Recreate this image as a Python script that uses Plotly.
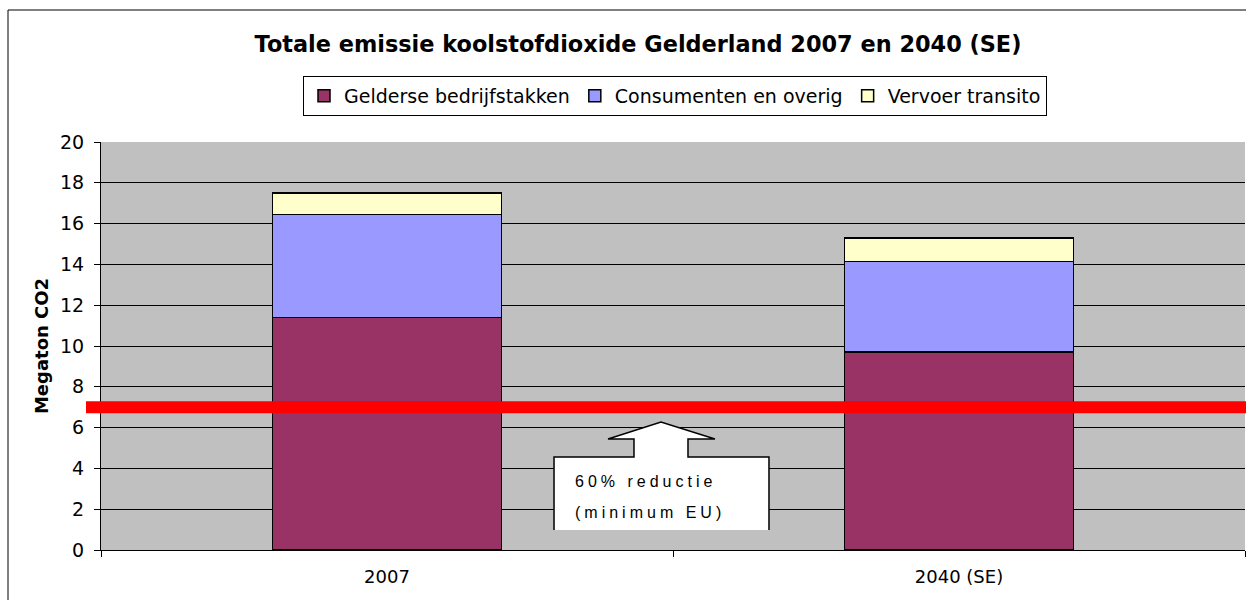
import plotly.graph_objects as go

categories = ["2007", "2040 (SE)"]
gelderse = [11.4, 9.7]
consumenten = [5.05, 4.45]
vervoer = [1.05, 1.15]
series_names = ["Gelderse bedrijfstakken", "Consumenten en overig", "Vervoer transito"]
series_colors = ["#993366", "#9999FF", "#FFFFCC"]
target = 7.0
y_ticks = [0, 2, 4, 6, 8, 10, 12, 14, 16, 18, 20]

FONT = "DejaVu Sans"

fig = go.Figure()
for name, vals, col in zip(series_names, [gelderse, consumenten, vervoer], series_colors):
    fig.add_trace(go.Bar(
        x=categories, y=vals, name=name,
        marker=dict(color=col, line=dict(color="black", width=1.5)),
    ))

# red target line
fig.add_shape(type="line", xref="paper", yref="y",
              x0=(86 - 101) / 1144, x1=1.01, y0=target, y1=target,
              line=dict(color="#FF0000", width=12), layer="above")

# arrow callout (white, black outline, open bottom)
def px_x(p):
    return (p - 101) / 572 - 0.5

def px_y(p):
    return (550 - p) / 20.4

pts = [(554, 530), (554, 457), (634, 457), (634, 439), (608, 439), (661, 422),
       (715, 439), (688, 439), (688, 457), (769, 457), (769, 530)]
path = "M " + " L ".join(f"{px_x(a):.4f},{px_y(b):.4f}" for a, b in pts)
fig.add_shape(type="path", xref="x", yref="y", path=path,
              fillcolor="white", line=dict(color="black", width=1.5), layer="above")

for txt, xc, yy in [("60% reductie", 645, 481), ("(minimum EU)", 650, 512)]:
    fig.add_annotation(x=px_x(xc), y=px_y(yy), xref="x", yref="y",
                       text=txt, showarrow=False, xanchor="center", yanchor="middle",
                       font=dict(family="Liberation Sans", size=16, color="black"))

# outer border of chart
fig.add_shape(type="rect", xref="paper", yref="paper",
              x0=(8 - 101) / 1144, x1=1.05, y0=-0.3, y1=(550 - 10) / 408,
              line=dict(color="black", width=1), fillcolor="rgba(0,0,0,0)", layer="below")

fig.update_layout(
    width=1246, height=600,
    margin=dict(l=101, r=1, t=142, b=50),
    paper_bgcolor="white", plot_bgcolor="#C0C0C0",
    barmode="stack", bargap=0.6,
    font=dict(family=FONT, size=18, color="black"),
    title=dict(text="<b>Totale emissie koolstofdioxide Gelderland 2007 en 2040 (SE)</b>",
               x=638 / 1246, xanchor="center", y=1 - 44 / 600, yanchor="middle",
               font=dict(family=FONT, size=22.4, color="black")),
    legend=dict(orientation="h", x=(675 - 101) / 1144, xanchor="center",
                y=(550 - 96) / 408, yanchor="middle",
                bgcolor="white", bordercolor="black", borderwidth=1,
                font=dict(family=FONT, size=19), traceorder="normal",
                itemwidth=30, tracegroupgap=0),
    showlegend=True,
)
fig.update_xaxes(range=[-0.5, 1.5], showline=True, linecolor="black", linewidth=1,
                 ticks="outside", ticklen=6, tickcolor="black", tickson="boundaries",
                 showgrid=False, tickfont=dict(size=18, family=FONT), ticklabelstandoff=10)
fig.update_yaxes(range=[0, 20], tickvals=y_ticks, showline=True, linecolor="black", linewidth=1,
                 ticks="outside", ticklen=6, tickcolor="black",
                 showgrid=True, gridcolor="black", gridwidth=1, zeroline=False,
                 tickfont=dict(size=19, family=FONT), ticklabelstandoff=6,
                 title=dict(text="<b>Megaton CO2</b>", font=dict(size=18, family=FONT), standoff=6))

post = """
document.body.style.margin = '0px';
document.querySelectorAll('.annotation-text').forEach(function(e){ e.style.letterSpacing = '4px'; });
"""
fig.write_html("out.html", post_script=post, config={"displayModeBar": False})
